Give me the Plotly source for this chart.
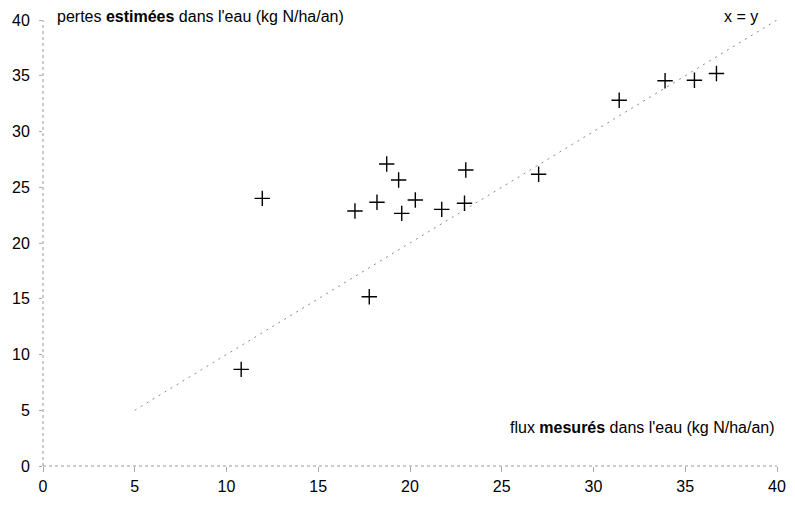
import plotly.graph_objects as go

# Data
mesures = [10.8, 11.95, 17.0, 17.78, 18.2, 18.73, 19.38, 19.55, 20.29, 21.73,
           22.97, 23.04, 27.01, 31.4, 33.9, 35.5, 36.7]
estimees = [8.67, 24.0, 22.87, 15.18, 23.65, 27.08, 25.65, 22.66, 23.86, 23.02,
            23.56, 26.55, 26.16, 32.8, 34.55, 34.6, 35.2]
ligne_xy = [5, 40]
ticks = [0, 5, 10, 15, 20, 25, 30, 35, 40]

font = "Liberation Sans, Arial, sans-serif"
fsize = 16

fig = go.Figure()
fig.add_trace(go.Scatter(
    x=ligne_xy, y=ligne_xy, mode="lines",
    line=dict(color="#888888", width=1, dash="2px,5px"),
    hoverinfo="skip", showlegend=False))
fig.add_trace(go.Scatter(
    x=mesures, y=estimees, mode="markers",
    marker=dict(symbol="cross-thin", size=11, color="black",
                line=dict(color="black", width=1.4)),
    showlegend=False))

axis_common = dict(
    range=[0, 40], tickvals=ticks, ticktext=[str(t) for t in ticks],
    showgrid=False, zeroline=False, showline=False, automargin=False,
    ticks="outside", tickcolor="#aaaaaa", tickwidth=1,
    tickfont=dict(family=font, size=fsize, color="black"),
    fixedrange=True)

fig.update_xaxes(**axis_common, ticklen=5, ticklabelstandoff=1)
fig.update_yaxes(**axis_common, ticklen=3, ticklabelstandoff=6)

# dotted axis lines
fig.add_shape(type="line", xref="paper", yref="paper", x0=0, x1=1, y0=0, y1=0,
              line=dict(color="#999999", width=1, dash="dot"))
fig.add_shape(type="line", xref="paper", yref="paper", x0=0, x1=0, y0=0, y1=1,
              line=dict(color="#999999", width=1, dash="dot"))

fig.add_annotation(xref="paper", yref="paper", x=0.017, y=1.0, xanchor="left", yanchor="middle",
                   yshift=4, showarrow=False,
                   text="pertes <b>estimées</b> dans l'eau (kg N/ha/an)",
                   font=dict(family=font, size=fsize, color="black"))
fig.add_annotation(xref="paper", yref="paper", x=0.9765, y=1.0, xanchor="right", yanchor="middle",
                   yshift=4, showarrow=False, text="x = y",
                   font=dict(family=font, size=fsize, color="black"))
fig.add_annotation(xref="paper", yref="paper", x=1.0, y=0.0855, xanchor="right", yanchor="middle",
                   showarrow=False,
                   text="flux <b>mesurés</b> dans l'eau (kg N/ha/an)",
                   font=dict(family=font, size=fsize, color="black"))

fig.update_layout(
    width=779, height=489,
    margin=dict(l=35, r=10, t=12, b=31),
    paper_bgcolor="white", plot_bgcolor="white",
    font=dict(family=font, size=fsize, color="black"))

fig.write_html("out.html")
